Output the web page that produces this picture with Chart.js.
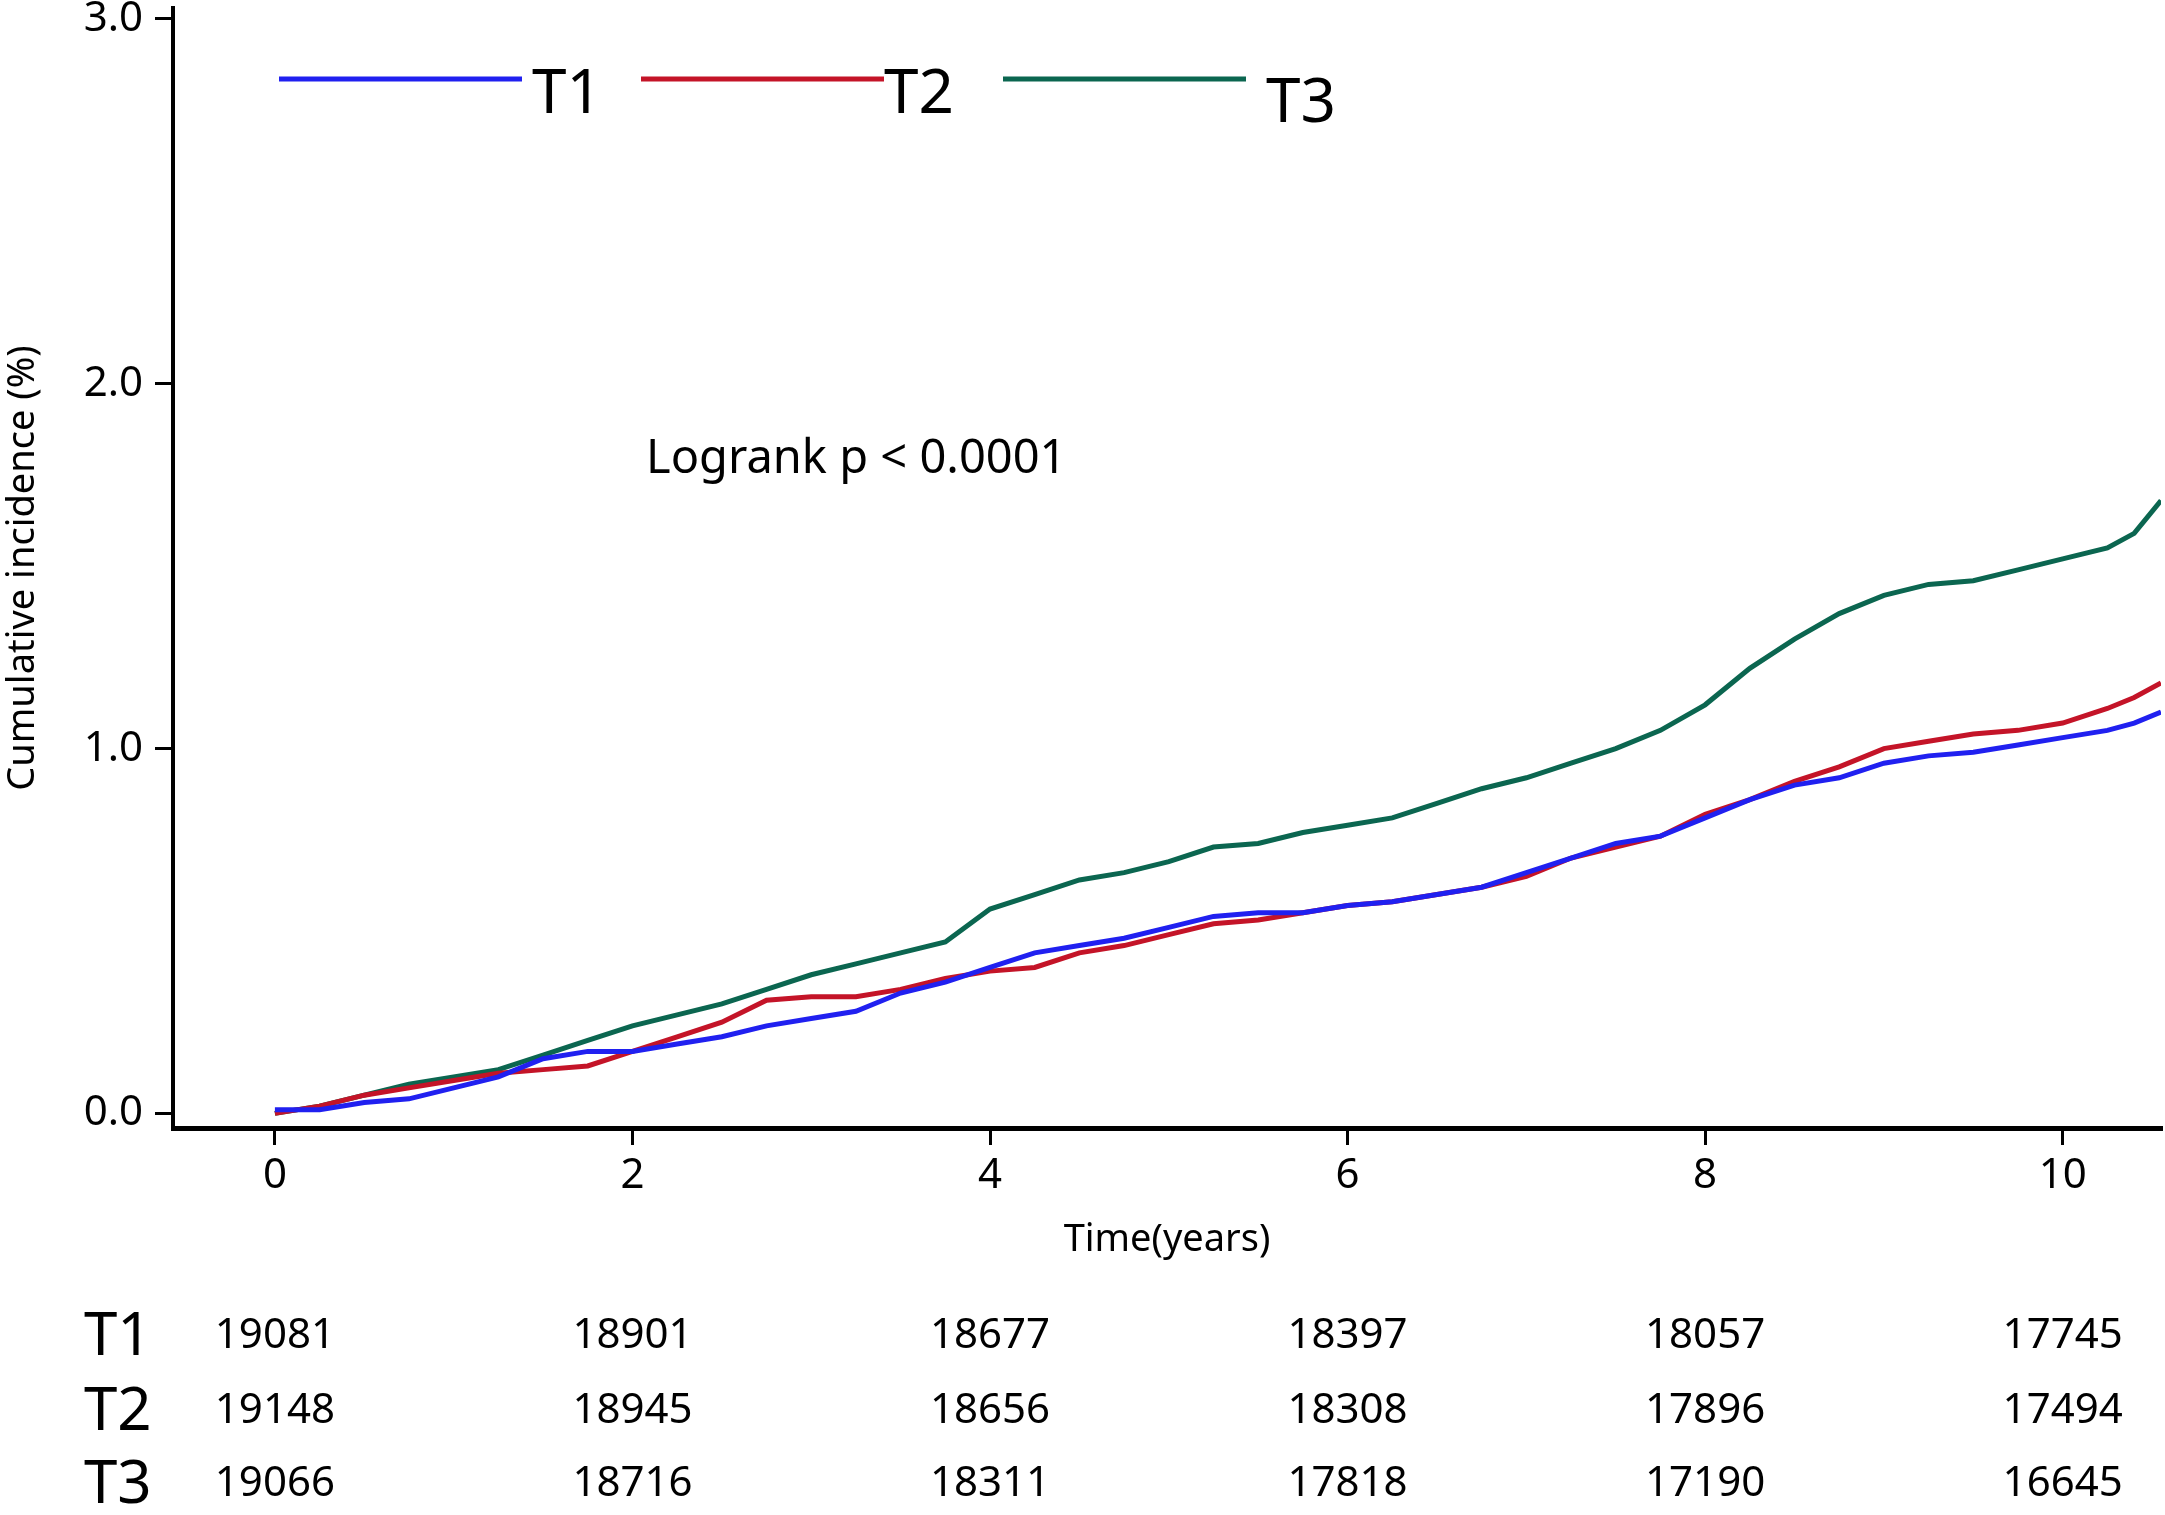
<!DOCTYPE html>
<html>
<head>
<meta charset="utf-8">
<script src="https://cdn.jsdelivr.net/npm/chart.js@4.4.1/dist/chart.umd.min.js"></script>
<style>
  html, body { margin: 0; padding: 0; background: #fff; }
  #wrap { width: 2165px; height: 1515px; position: relative; }
</style>
</head>
<body>
<div id="wrap"><canvas id="chart-1"></canvas></div>
<script>
const times = [0, 0.25, 0.5, 0.75, 1, 1.25, 1.5, 1.75, 2, 2.25, 2.5, 2.75, 3, 3.25, 3.5, 3.75,
    4, 4.25, 4.5, 4.75, 5, 5.25, 5.5, 5.75, 6, 6.25, 6.5, 6.75, 7, 7.25, 7.5, 7.75,
    8, 8.25, 8.5, 8.75, 9, 9.25, 9.5, 9.75, 10, 10.25, 10.4, 10.55];
const t1 = [0.01, 0.01, 0.03, 0.04, 0.07, 0.10, 0.15, 0.17, 0.17, 0.19, 0.21, 0.24, 0.26, 0.28, 0.33, 0.36,
    0.40, 0.44, 0.46, 0.48, 0.51, 0.54, 0.55, 0.55, 0.57, 0.58, 0.60, 0.62, 0.66, 0.70, 0.74, 0.76,
    0.81, 0.86, 0.90, 0.92, 0.96, 0.98, 0.99, 1.01, 1.03, 1.05, 1.07, 1.10];
const t2 = [0, 0.02, 0.05, 0.07, 0.09, 0.11, 0.12, 0.13, 0.17, 0.21, 0.25, 0.31, 0.32, 0.32, 0.34, 0.37,
    0.39, 0.40, 0.44, 0.46, 0.49, 0.52, 0.53, 0.55, 0.57, 0.58, 0.60, 0.62, 0.65, 0.70, 0.73, 0.76,
    0.82, 0.86, 0.91, 0.95, 1.00, 1.02, 1.04, 1.05, 1.07, 1.11, 1.14, 1.18];
const t3 = [0, 0.02, 0.05, 0.08, 0.10, 0.12, 0.16, 0.20, 0.24, 0.27, 0.30, 0.34, 0.38, 0.41, 0.44, 0.47,
    0.56, 0.60, 0.64, 0.66, 0.69, 0.73, 0.74, 0.77, 0.79, 0.81, 0.85, 0.89, 0.92, 0.96, 1.00, 1.05,
    1.12, 1.22, 1.30, 1.37, 1.42, 1.45, 1.46, 1.49, 1.52, 1.55, 1.59, 1.68];

const groups = ["T1", "T2", "T3"];
const colors = ["#2020f0", "#c41428", "#0b6650"];

const xTicks = [0, 2, 4, 6, 8, 10];
const yTicks = [0, 1, 2, 3];

// numbers at risk, one row per group, at xTicks
const riskT1 = [19081, 18901, 18677, 18397, 18057, 17745];
const riskT2 = [19148, 18945, 18656, 18308, 17896, 17494];
const riskT3 = [19066, 18716, 18311, 17818, 17190, 16645];

const FONT = "'Noto Sans', 'Open Sans', sans-serif";

const pts = (ys) => times.map((t, i) => ({ x: t, y: ys[i] }));

// legend + annotation + risk table drawn on the canvas
const extras = {
    id: "extras",
    afterDraw(chart) {
        const c = chart.ctx;
        const xs = chart.scales.x;
        c.save();
        // legend
        const leg = [[279, 522, 532, 113], [641, 884, 884, 113], [1003, 1246, 1266, 122]];
        chart.data.datasets.forEach((ds, i) => {
            const [a, b, tx, ty] = leg[i];
            c.strokeStyle = ds.borderColor;
            c.lineWidth = 5;
            c.beginPath();
            c.moveTo(a, 79);
            c.lineTo(b, 79);
            c.stroke();
            c.fillStyle = "#000";
            c.font = "62px " + FONT;
            c.textAlign = "left";
            c.textBaseline = "alphabetic";
            c.fillText(ds.label, tx, ty);
        });
        // logrank
        c.font = "47px " + FONT;
        c.textBaseline = "middle";
        c.fillText("Logrank p < 0.0001", 646, 460);
        // risk table
        const rows = [riskT1, riskT2, riskT3];
        const rowY = [1336, 1411, 1484];
        rows.forEach((r, j) => {
            c.font = "60px " + FONT;
            c.textAlign = "left";
            c.fillText(groups[j], 84, rowY[j] + 2);
            c.font = "42px " + FONT;
            c.textAlign = "center";
            r.forEach((n, k) => {
                c.fillText(String(n), xs.getPixelForValue(xTicks[k]), rowY[j]);
            });
        });
        c.restore();
    },
};

const ctx1 = document.getElementById("chart-1").getContext("2d");
const myChart = new Chart(ctx1, {
    type: "line",
    data: {
        datasets: [
            { label: groups[0], data: pts(t1), borderColor: colors[0] },
            { label: groups[1], data: pts(t2), borderColor: colors[1] },
            { label: groups[2], data: pts(t3), borderColor: colors[2] },
        ],
    },
    options: {
        responsive: true,
        maintainAspectRatio: false,
        animation: false,
        devicePixelRatio: 1,
        layout: { padding: { top: 8, right: 4, bottom: 252, left: 0 } },
        elements: {
            point: { radius: 0 },
            line: { borderWidth: 5, tension: 0 },
        },
        plugins: {
            legend: { display: false },
            tooltip: { enabled: false },
        },
        scales: {
            x: {
                type: "linear",
                min: -0.57,
                max: 10.55,
                afterBuildTicks: (s) => { s.ticks = xTicks.map((v) => ({ value: v })); },
                afterFit: (s) => { s.height = 135; s.paddingLeft = 0; s.paddingRight = 0; },
                border: { display: true, color: "#000", width: 5 },
                grid: { display: true, drawOnChartArea: false, drawTicks: true, tickLength: 17, color: "#000", lineWidth: 3 },
                ticks: { color: "#000", padding: 6, maxRotation: 0, font: { size: 42, family: FONT } },
                title: { display: true, text: "Time(years)", color: "#000", padding: 0, font: { size: 38, family: FONT } },
            },
            y: {
                min: -0.04,
                max: 3.03,
                afterBuildTicks: (s) => { s.ticks = yTicks.map((v) => ({ value: v })); },
                afterFit: (s) => { s.width = 173; s.paddingTop = 0; s.paddingBottom = 0; },
                border: { display: true, color: "#000", width: 4 },
                grid: { display: true, drawOnChartArea: false, drawTicks: true, tickLength: 18, color: "#000", lineWidth: 3 },
                ticks: { color: "#000", padding: 12, font: { size: 42, family: FONT }, callback: (v) => v.toFixed(1) },
                title: { display: true, text: "Cumulative incidence (%)", color: "#000", padding: 0, font: { size: 38, family: FONT } },
            },
        },
    },
    plugins: [extras],
});
</script>
</body>
</html>
